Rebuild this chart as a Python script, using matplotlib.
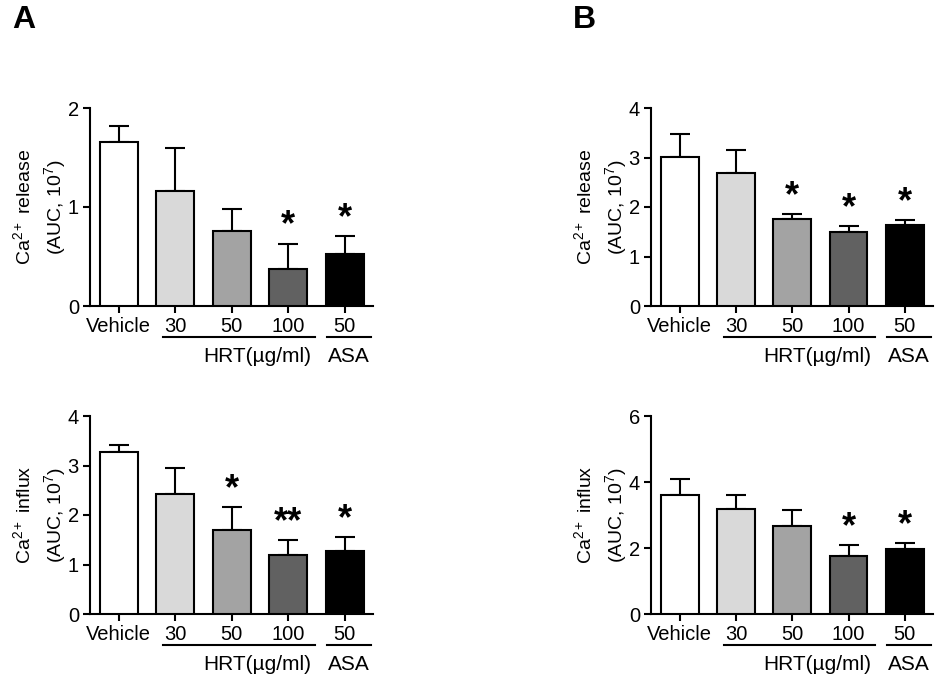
import matplotlib
matplotlib.use("Agg")
import matplotlib.pyplot as plt
import matplotlib.transforms as mtransforms

plt.rcParams['font.family'] = ['Liberation Sans', 'DejaVu Sans']
plt.rcParams['mathtext.fontset'] = 'custom'
plt.rcParams['mathtext.rm'] = 'Liberation Sans'
plt.rcParams['mathtext.it'] = 'Liberation Sans:italic'
plt.rcParams['mathtext.bf'] = 'Liberation Sans:bold'

# ---- data ----
categories = ["Vehicle", "30", "50", "100", "50"]
colors = ["#ffffff", "#d9d9d9", "#a3a3a3", "#616161", "#000000"]

a_release = [1.66, 1.16, 0.76, 0.37, 0.53]
a_release_err = [0.16, 0.44, 0.22, 0.26, 0.18]
a_release_sig = ["", "", "", "*", "*"]

a_influx = [3.28, 2.42, 1.70, 1.20, 1.28]
a_influx_err = [0.13, 0.52, 0.46, 0.29, 0.28]
a_influx_sig = ["", "", "*", "**", "*"]

b_release = [3.02, 2.68, 1.75, 1.50, 1.63]
b_release_err = [0.45, 0.48, 0.10, 0.12, 0.10]
b_release_sig = ["", "", "*", "*", "*"]

b_influx = [3.60, 3.19, 2.67, 1.77, 1.97]
b_influx_err = [0.48, 0.41, 0.48, 0.32, 0.17]
b_influx_sig = ["", "", "", "*", "*"]

panels = [
    (a_release, a_release_err, a_release_sig, "release", [0, 1, 2]),
    (a_influx, a_influx_err, a_influx_sig, "influx", [0, 1, 2, 3, 4]),
    (b_release, b_release_err, b_release_sig, "release", [0, 1, 2, 3, 4]),
    (b_influx, b_influx_err, b_influx_sig, "influx", [0, 2, 4, 6]),
]

W, H = 950, 689
fig = plt.figure(figsize=(9.5, 6.89), dpi=100)

def px_axes(x0, x1, ytop, ybot):
    return fig.add_axes([x0 / W, (H - ybot) / H, (x1 - x0) / W, (ybot - ytop) / H])

axes = [
    px_axes(90, 373, 108, 306),
    px_axes(90, 373, 416, 614),
    px_axes(651, 933, 108, 306),
    px_axes(651, 933, 416, 614),
]

for ax, (vals, errs, sig, kind, yticks) in zip(axes, panels):
    x = list(range(len(vals)))
    ax.bar(x, vals, width=0.67, color=colors, edgecolor="black", linewidth=1.5, zorder=3)
    ax.errorbar(x, vals, yerr=[[0] * len(errs), errs], fmt="none", ecolor="black",
                elinewidth=1.5, capsize=7, capthick=1.5, zorder=2)
    ax.set_xlim(-0.51, 4.5)
    ax.set_ylim(0, yticks[-1])
    ax.set_yticks(yticks)
    ax.set_xticks(x)
    ax.set_xticklabels(categories)
    for s in ["top", "right"]:
        ax.spines[s].set_visible(False)
    for s in ["left", "bottom"]:
        ax.spines[s].set_linewidth(1.5)
    ax.tick_params(axis="both", labelsize=14.5, width=1.5, length=5, pad=3)
    for xi, v, e, s in zip(x, vals, errs, sig):
        if s:
            ax.annotate(s, xy=(xi, v + e), xytext=(0, 0), textcoords="offset points",
                        ha="center", va="bottom", fontsize=26, fontweight="bold")
    # group lines
    tr = mtransforms.blended_transform_factory(ax.transData, ax.transAxes)
    ax.plot([0.78, 3.47], [-0.157, -0.157], color="black", lw=1.5, transform=tr, clip_on=False)
    ax.plot([3.68, 4.46], [-0.157, -0.157], color="black", lw=1.5, transform=tr, clip_on=False)
    ax.text(2.45, -0.255, "HRT(µg/ml)", transform=tr, ha="center", va="center", fontsize=15)
    ax.text(4.07, -0.255, "ASA", transform=tr, ha="center", va="center", fontsize=15)
    # y labels (two lines)
    bb = ax.get_position()
    yc = bb.y0 + bb.height / 2
    xl = bb.x0 * W
    fig.text((xl - 67) / W, yc, r"Ca$^{2+}$ release" if kind == "release" else r"Ca$^{2+}$ influx",
             rotation=90, ha="center", va="center", fontsize=14)
    fig.text((xl - 35) / W, yc, r"(AUC, 10$^{7}$)", rotation=90, ha="center", va="center", fontsize=14)

fig.text(12 / W, 1 - 20 / H, "A", fontsize=23, fontweight="bold", ha="left", va="center")
fig.text(573 / W, 1 - 20 / H, "B", fontsize=23, fontweight="bold", ha="left", va="center")

fig.savefig("out.png", dpi=100, facecolor="white")
